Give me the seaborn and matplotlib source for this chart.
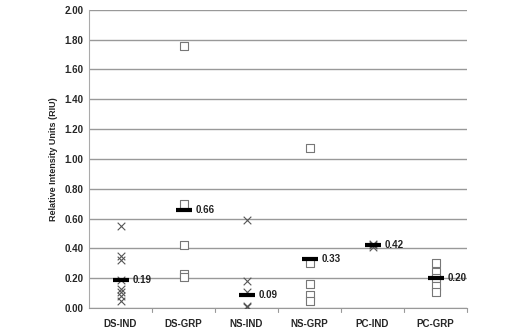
import seaborn as sns
import matplotlib.pyplot as plt
import pandas as pd

categories = ['DS-IND', 'DS-GRP', 'NS-IND', 'NS-GRP', 'PC-IND', 'PC-GRP']
ds_ind = [0.55, 0.35, 0.32, 0.19, 0.13, 0.11, 0.08, 0.05]
ds_grp = [1.76, 0.70, 0.42, 0.23, 0.21]
ns_ind = [0.59, 0.18, 0.11, 0.015, 0.01]
ns_grp = [1.07, 0.30, 0.16, 0.09, 0.05]
pc_ind = [0.41, 0.42, 0.43]
pc_grp = [0.30, 0.24, 0.20, 0.15, 0.11]
means = [0.19, 0.66, 0.09, 0.33, 0.42, 0.20]
mean_labels = ['0.19', '0.66', '0.09', '0.33', '0.42', '0.20']

ind = pd.DataFrame({'group': ['DS-IND'] * len(ds_ind) + ['NS-IND'] * len(ns_ind) + ['PC-IND'] * len(pc_ind),
                    'riu': ds_ind + ns_ind + pc_ind})
grp = pd.DataFrame({'group': ['DS-GRP'] * len(ds_grp) + ['NS-GRP'] * len(ns_grp) + ['PC-GRP'] * len(pc_grp),
                    'riu': ds_grp + ns_grp + pc_grp})

sns.set_style('white')
plt.rcParams['font.family'] = ['Liberation Sans', 'DejaVu Sans']
plt.rcParams['font.weight'] = 'bold'

fig = plt.figure(figsize=(5.28, 3.32), dpi=100)
ax = fig.add_axes([0.1686, 0.0723, 0.716, 0.898])

sns.stripplot(data=ind, x='group', y='riu', order=categories, jitter=False,
              marker='x', s=5.5, linewidth=0.8, color='#555555', ax=ax, zorder=3)
sns.stripplot(data=grp, x='group', y='riu', order=categories, jitter=False,
              marker='s', s=5.5, linewidth=0.8, facecolor='white', edgecolor='#777777', ax=ax, zorder=3)
sns.stripplot(x=categories, y=means, order=categories, jitter=False,
              marker='_', s=11, linewidth=3.0, color='black', ax=ax, zorder=4)

for i, (m, lab) in enumerate(zip(means, mean_labels)):
    ax.annotate(lab, (i, m), xytext=(9, 0), textcoords='offset points',
                va='center', ha='left', fontsize=7, fontweight='bold', color='#222222')

ax.set_ylim(0, 2.0)
ax.set_xlim(-0.5, 5.5)
ax.set_yticks([i * 0.2 for i in range(11)])
ax.set_yticklabels([f'{i * 0.2:.2f}' for i in range(11)], fontsize=7, fontweight='bold')
ax.set_xticks(range(6))
ax.set_xticklabels(categories, fontsize=7, fontweight='bold')
ax.tick_params(axis='x', length=0, pad=8)
ax.tick_params(axis='y', length=0, pad=4)
for b in [0.5, 1.5, 2.5, 3.5, 4.5, 5.5]:
    ax.plot([b, b], [0, -0.012], color='#999999', lw=0.8, clip_on=False, transform=ax.get_xaxis_transform())
ax.grid(axis='y', color='#999999', linewidth=1.0)
ax.set_axisbelow(True)
ax.set_xlabel('')
ax.set_ylabel('Relative Intensity Units (RIU)', fontsize=6.5, fontweight='bold', labelpad=5)
for s in ['top', 'right']:
    ax.spines[s].set_visible(False)
ax.spines['left'].set_color('#aaaaaa')
ax.spines['bottom'].set_color('#999999')

fig.savefig('out.png', dpi=100)
